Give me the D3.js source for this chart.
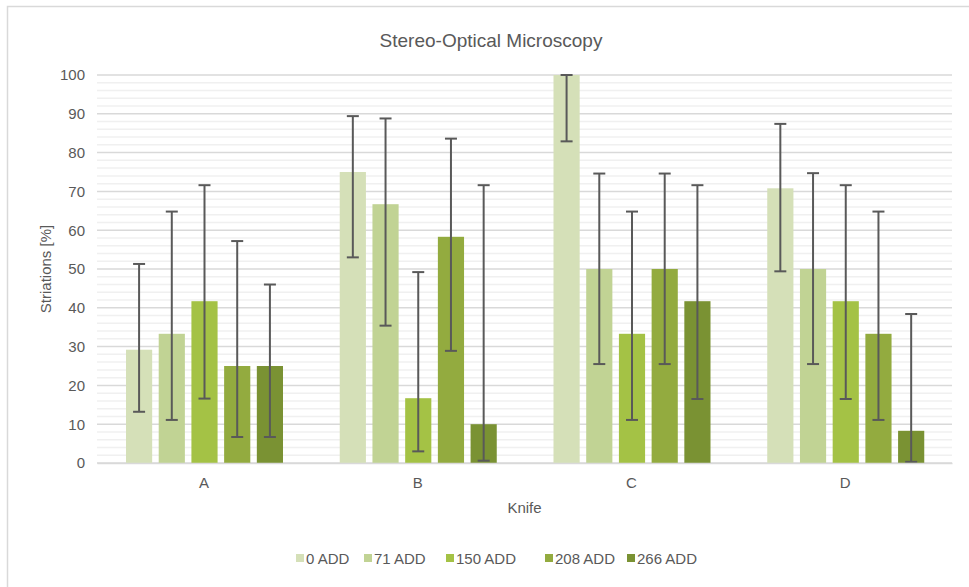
<!DOCTYPE html>
<html>
<head>
<meta charset="utf-8">
<script src="https://cdn.jsdelivr.net/npm/d3@7"></script>
<style>
  body { margin: 0; background: #fff; }
  svg text { font-family: "Liberation Sans", Arial, sans-serif; fill: #595959; }
</style>
</head>
<body>
<div id="chart"></div>
<script>
// Knife categories and the five ADD series
var knives = ["A", "B", "C", "D"];
var series = ["0 ADD", "71 ADD", "150 ADD", "208 ADD", "266 ADD"];
var colors = ["#d5e0b8", "#c1d394", "#a4c245", "#93ab3f", "#7a9233"];

// values per series, in order A..D
var means = [
    [29.2, 75.0, 100, 70.8],
    [33.3, 66.7, 50.0, 50.0],
    [41.7, 16.7, 33.3, 41.7],
    [25.0, 58.3, 50.0, 33.3],
    [25.0, 10.0, 41.7, 8.3]
];
var lows = [
    [13.2, 53.0, 82.9, 49.4],
    [11.1, 35.4, 25.5, 25.5],
    [16.6, 3.0, 11.1, 16.5],
    [6.7, 28.9, 25.5, 11.1],
    [6.7, 0.6, 16.5, 0.3]
];
var highs = [
    [51.3, 89.4, 100, 87.4],
    [64.8, 88.8, 74.6, 74.7],
    [71.6, 49.2, 64.8, 71.6],
    [57.2, 83.6, 74.6, 64.8],
    [46.0, 71.6, 71.6, 38.4]
];
var yTicks = [0, 10, 20, 30, 40, 50, 60, 70, 80, 90, 100];

var W = 969, H = 587;
var margin = {top: 75, right: 17, bottom: 124, left: 97};
var width = W - margin.left - margin.right,
    height = H - margin.top - margin.bottom;

var svg = d3.select("#chart").append("svg")
    .attr("width", W)
    .attr("height", H);

// outer chart frame
svg.append("rect")
    .attr("x", 7.5).attr("y", 6.5)
    .attr("width", W + 20).attr("height", H + 20)
    .attr("fill", "none").attr("stroke", "#d9d9d9").attr("stroke-width", 1.5);

var g = svg.append("g")
    .attr("transform", "translate(" + margin.left + "," + margin.top + ")");

var x = d3.scaleBand().domain(knives).range([0, width]).paddingInner(0).paddingOuter(0);
var x1 = d3.scaleBand().domain(series).range([29, 186]).paddingInner(0.2);
var y = d3.scaleLinear().domain([0, 100]).range([height, 0]);

// minor grid every 2, major every 10
g.append("g").selectAll("line")
    .data(d3.range(0, 101, 2).filter(function(d) { return d % 10 !== 0; }))
    .enter().append("line")
    .attr("x1", 0).attr("x2", width)
    .attr("y1", function(d) { return y(d); })
    .attr("y2", function(d) { return y(d); })
    .attr("stroke", "#f0f0f0").attr("stroke-width", 1.5);

g.append("g").selectAll("line")
    .data(yTicks)
    .enter().append("line")
    .attr("x1", 0).attr("x2", width)
    .attr("y1", function(d) { return y(d); })
    .attr("y2", function(d) { return y(d); })
    .attr("stroke", "#d9d9d9").attr("stroke-width", 1.5);

// y axis labels
var yAxis = g.append("g")
    .call(d3.axisLeft(y).tickValues(yTicks).tickSize(0).tickPadding(12));
yAxis.select(".domain").remove();
yAxis.selectAll("text").style("font-size", "15px").attr("fill", "#595959");

// bars
var rows = [];
series.forEach(function(s, i) {
    knives.forEach(function(k, j) {
        rows.push({s: s, k: k, i: i, v: means[i][j], lo: lows[i][j], hi: highs[i][j]});
    });
});

g.selectAll(".bar")
    .data(rows)
    .enter().append("rect")
    .attr("class", "bar")
    .attr("x", function(d) { return x(d.k) + x1(d.s); })
    .attr("width", x1.bandwidth())
    .attr("y", function(d) { return y(d.v); })
    .attr("height", function(d) { return height - y(d.v); })
    .attr("fill", function(d) { return colors[d.i]; });

// error bars
var err = g.selectAll(".err")
    .data(rows)
    .enter().append("g")
    .attr("class", "err")
    .attr("stroke", "#595959").attr("stroke-width", 2);

function cx(d) { return x(d.k) + x1(d.s) + x1.bandwidth() / 2; }

err.append("line")
    .attr("x1", cx).attr("x2", cx)
    .attr("y1", function(d) { return y(d.lo); })
    .attr("y2", function(d) { return y(d.hi); });
err.append("line")
    .attr("x1", function(d) { return cx(d) - 6; })
    .attr("x2", function(d) { return cx(d) + 6; })
    .attr("y1", function(d) { return y(d.lo); })
    .attr("y2", function(d) { return y(d.lo); });
err.append("line")
    .attr("x1", function(d) { return cx(d) - 6; })
    .attr("x2", function(d) { return cx(d) + 6; })
    .attr("y1", function(d) { return y(d.hi); })
    .attr("y2", function(d) { return y(d.hi); });

// x axis
var xAxis = g.append("g")
    .attr("transform", "translate(0," + height + ")")
    .call(d3.axisBottom(x).tickSize(0).tickPadding(14));
xAxis.select(".domain").attr("stroke", "#d9d9d9").attr("stroke-width", 1.5);
xAxis.selectAll("text").style("font-size", "15px").attr("fill", "#595959");

// title and axis titles
svg.append("text")
    .attr("x", 491).attr("y", 47)
    .attr("text-anchor", "middle")
    .style("font-size", "19px")
    .text("Stereo-Optical Microscopy");

svg.append("text")
    .attr("x", margin.left + width / 2).attr("y", 513)
    .attr("text-anchor", "middle")
    .style("font-size", "15px")
    .text("Knife");

svg.append("text")
    .attr("transform", "translate(51," + (margin.top + height / 2) + ") rotate(-90)")
    .attr("text-anchor", "middle")
    .style("font-size", "15px")
    .text("Striations [%]");

// legend
var legendX = [296, 364, 446, 545, 627];
var legend = svg.append("g").selectAll("g")
    .data(series)
    .enter().append("g")
    .attr("transform", function(d, i) { return "translate(" + legendX[i] + ",558)"; });
legend.append("rect")
    .attr("x", 0).attr("y", -4)
    .attr("width", 8).attr("height", 8)
    .attr("fill", function(d, i) { return colors[i]; });
legend.append("text")
    .attr("x", 10).attr("y", 5.5)
    .style("font-size", "15px")
    .text(function(d) { return d; });
</script>
</body>
</html>
